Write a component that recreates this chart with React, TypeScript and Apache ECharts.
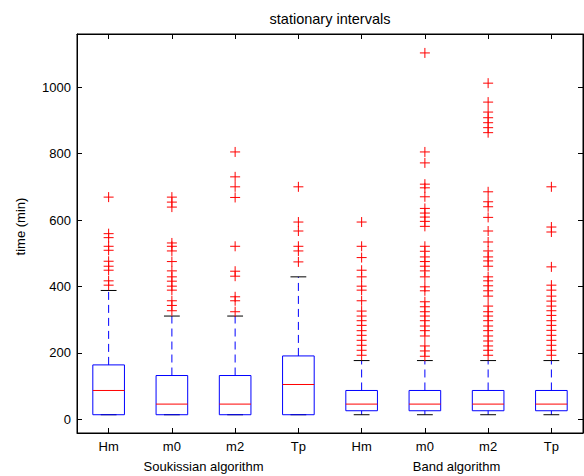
import React, { useEffect, useRef } from "react";
import * as echarts from "echarts";

const categories = ["Hm", "m0", "m2", "Tp", "Hm", "m0", "m2", "Tp"];
const groups = ["Soukissian algorithm", "Band algorithm"];
const yTickValues = [0, 200, 400, 600, 800, 1000];

const lowerWhisker = [14, 14, 14, 14, 14, 14, 14, 14];
const quartile1 = [14, 14, 14, 14, 26, 26, 26, 26];
const medians = [87, 46, 46, 105, 46, 46, 46, 46];
const quartile3 = [164, 132, 132, 191, 87, 87, 87, 87];
const upperWhisker = [388, 311, 311, 429, 177, 177, 177, 177];

const outSoukHm = [669, 559, 547, 521, 509, 476, 461, 449, 417, 404];
const outSoukM0 = [669, 654, 639, 531, 521, 507, 475, 447, 429, 416, 401, 389, 357, 343, 327];
const outSoukM2 = [805, 730, 700, 668, 521, 446, 431, 369, 357, 324];
const outSoukTp = [700, 594, 567, 521, 507, 474];
const outBandHm = [594, 521, 487, 449, 429, 401, 389, 357, 326, 311, 297, 283, 267, 253, 238, 223, 208, 193];
const outBandM0 = [1103, 805, 772, 708, 697, 670, 635, 621, 609, 596, 581, 521, 506, 489, 475, 461, 447, 429, 399, 387, 354, 339, 324, 311, 297, 281, 267, 251, 221, 206, 190];
const outBandM2 = [1012, 955, 925, 908, 893, 878, 863, 685, 655, 640, 608, 567, 534, 507, 489, 477, 461, 429, 417, 402, 387, 371, 341, 324, 311, 297, 281, 267, 251, 236, 221, 208, 193];
const outBandTp = [700, 579, 564, 459, 404, 389, 371, 356, 341, 327, 313, 297, 283, 268, 253, 238, 223, 208, 193];

const outliers = [outSoukHm, outSoukM0, outSoukM2, outSoukTp, outBandHm, outBandM0, outBandM2, outBandTp];

const FONT = "Liberation Sans, Arial, sans-serif";

export default function App() {
  const ref = useRef<HTMLDivElement>(null);
  useEffect(() => {
    if (!ref.current) return;
    const chart = echarts.init(ref.current, null, { renderer: "svg" });
    const boxData = categories.map((_, i) => [i, lowerWhisker[i], quartile1[i], medians[i], quartile3[i], upperWhisker[i]]);
    const outData: number[][] = [];
    outliers.forEach((arr, i) => arr.forEach((v) => outData.push([i, v])));
    const blue = "#0000ff";
    const red = "#ff0000";
    const mkLine = () => ({ show: true, onZero: false, lineStyle: { color: "#000", width: 1 } });
    const mkTick = () => ({ show: true, inside: true, alignWithLabel: true, length: 5, lineStyle: { color: "#000", width: 1 } });
    chart.setOption({
      animation: false,
      backgroundColor: "#fff",
      grid: { left: 77, right: 1, top: 34, bottom: 43, containLabel: false, show: true, borderColor: "#000", borderWidth: 1, backgroundColor: "transparent" },
      graphic: [
        {
          type: "text",
          x: 330,
          y: 19,
          style: { text: "stationary intervals", fill: "#000", font: `14.5px ${FONT}`, textAlign: "center", textVerticalAlign: "middle" },
        },
      ],
      xAxis: [
        {
          type: "category",
          data: categories,
          position: "bottom",
          axisLine: mkLine(),
          splitLine: { show: false },
          axisTick: mkTick(),
          axisLabel: { color: "#000", fontSize: 13, fontFamily: FONT, margin: 7, interval: 0 },
        },
        {
          type: "category",
          data: groups,
          position: "bottom",
          offset: 20,
          axisLine: { show: false, onZero: false },
          axisTick: { show: false },
          splitLine: { show: false },
          axisLabel: { color: "#000", fontSize: 13, fontFamily: FONT, margin: 7, interval: 0 },
        },
        {
          type: "category",
          data: categories,
          position: "top",
          axisLine: mkLine(),
          splitLine: { show: false },
          axisTick: mkTick(),
          axisLabel: { show: false },
        },
      ],
      yAxis: [
        {
          type: "value",
          min: -41,
          max: 1160,
          position: "left",
          axisLine: mkLine(),
          splitLine: { show: false },
          name: "time (min)",
          nameLocation: "middle",
          nameGap: 50,
          nameTextStyle: { color: "#000", fontSize: 13, fontFamily: FONT, padding: [0, 0, 0, 14] },
          axisTick: { show: true, inside: true, length: 5, lineStyle: { color: "#000" } },
          axisLabel: {
            color: "#000",
            fontSize: 13,
            fontFamily: FONT,
            margin: 6,
            showMinLabel: false,
            showMaxLabel: false,
            formatter: (v: number) => (yTickValues.includes(v) ? String(v) : ""),
          },
        },
        {
          type: "value",
          min: -41,
          max: 1160,
          position: "right",
          axisLine: mkLine(),
          splitLine: { show: false },
          axisTick: { show: true, inside: true, length: 5, lineStyle: { color: "#000" } },
          axisLabel: { show: false },
        },
      ],
      series: [
        {
          type: "custom",
          xAxisIndex: 0,
          yAxisIndex: 0,
          data: boxData,
          renderItem: (params: any, api: any) => {
            const idx = api.value(0);
            const lo = api.coord([idx, api.value(1)]);
            const q1 = api.coord([idx, api.value(2)]);
            const md = api.coord([idx, api.value(3)]);
            const q3 = api.coord([idx, api.value(4)]);
            const hi = api.coord([idx, api.value(5)]);
            const band = api.size([1, 0])[0];
            const hw = band * 0.25;
            const cw = band * 0.125;
            const x = q1[0];
            const children: any[] = [];
            children.push({ type: "line", shape: { x1: x, y1: q3[1], x2: x, y2: hi[1] }, style: { stroke: blue, lineWidth: 1, lineDash: [8, 5] } });
            if (Math.abs(q1[1] - lo[1]) > 0.5) {
              children.push({ type: "line", shape: { x1: x, y1: q1[1], x2: x, y2: lo[1] }, style: { stroke: blue, lineWidth: 1, lineDash: [8, 5] } });
            }
            children.push({ type: "line", shape: { x1: x - cw, y1: hi[1], x2: x + cw, y2: hi[1] }, style: { stroke: "#000", lineWidth: 1 } });
            children.push({ type: "line", shape: { x1: x - cw, y1: lo[1], x2: x + cw, y2: lo[1] }, style: { stroke: "#000", lineWidth: 1 } });
            children.push({ type: "rect", shape: { x: x - hw, y: q3[1], width: hw * 2, height: q1[1] - q3[1] }, style: { fill: "none", stroke: blue, lineWidth: 1 } });
            children.push({ type: "line", shape: { x1: x - hw, y1: md[1], x2: x + hw, y2: md[1] }, style: { stroke: red, lineWidth: 1 } });
            return { type: "group", children };
          },
          z: 2,
        },
        {
          type: "custom",
          xAxisIndex: 0,
          yAxisIndex: 0,
          data: outData,
          renderItem: (params: any, api: any) => {
            const p = api.coord([api.value(0), api.value(1)]);
            const s = 5;
            return {
              type: "group",
              children: [
                { type: "line", shape: { x1: p[0] - s, y1: p[1], x2: p[0] + s, y2: p[1] }, style: { stroke: red, lineWidth: 1 } },
                { type: "line", shape: { x1: p[0], y1: p[1] - s, x2: p[0], y2: p[1] + s }, style: { stroke: red, lineWidth: 1 } },
              ],
            };
          },
          z: 3,
        },
      ],
    });
    return () => chart.dispose();
  }, []);
  return <div ref={ref} style={{ width: 584, height: 476, position: "absolute", left: 0, top: 0 }} />;
}
